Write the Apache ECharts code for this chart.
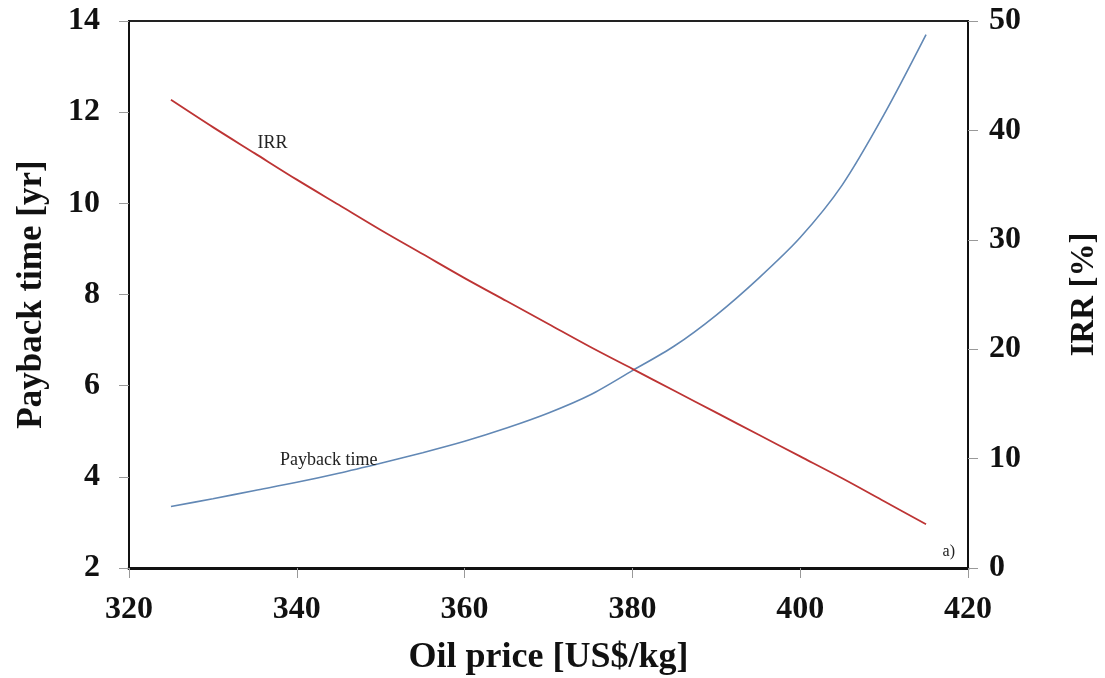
<!DOCTYPE html>
<html>
<head>
<meta charset="utf-8">
<script src="https://cdn.jsdelivr.net/npm/echarts@6/dist/echarts.min.js"></script>
<style>
  html, body { margin: 0; padding: 0; background: #fff; }
  #chart { width: 1105px; height: 678px; }
</style>
</head>
<body>
<div id="chart"></div>
<script>
// oil price [US$/kg]
const oilPrice = [325, 330, 335, 340, 345, 350, 355, 360, 365, 370, 375, 380, 385, 390, 395, 400, 405, 410, 415];
// payback time [yr]
const payback = [3.35, 3.52, 3.70, 3.88, 4.08, 4.30, 4.53, 4.78, 5.07, 5.40, 5.80, 6.33, 6.87, 7.55, 8.35, 9.25, 10.40, 11.95, 13.70];
// IRR [%]
const irr = [42.8, 40.3, 37.9, 35.5, 33.2, 30.9, 28.7, 26.5, 24.4, 22.3, 20.2, 18.2, 16.2, 14.2, 12.2, 10.2, 8.2, 6.1, 4.0];

const xTicks = { min: 320, max: 420, interval: 20 };
const leftTicks = { min: 2, max: 14, interval: 2 };
const rightTicks = { min: 0, max: 50, interval: 10 };

const serif = "Liberation Serif";
const pair = (xs, ys) => xs.map((x, i) => [x, ys[i]]);

const chart = echarts.init(document.getElementById("chart"), null, { renderer: "canvas" });

const tickLabel = { color: "#111", fontFamily: serif, fontWeight: "bold", fontSize: 32 };
const nameStyle = { color: "#111", fontFamily: serif, fontWeight: "bold", fontSize: 36 };

// in-plot text that sits next to a curve
const curveLabel = (text, coord) => ({
  symbol: "circle",
  symbolSize: 1,
  itemStyle: { color: "rgba(0,0,0,0)" },
  label: { show: true, position: "inside", formatter: text, color: "#222", fontFamily: serif, fontSize: 18 },
  data: [{ coord }],
});

chart.setOption({
  animation: false,
  backgroundColor: "#fff",
  grid: {
    left: 129,
    right: 137,
    top: 21,
    bottom: 110,
    outerBoundsMode: "none",
    show: true,
    borderColor: "#222",
    borderWidth: 2,
  },
  xAxis: {
    type: "value",
    ...xTicks,
    name: "Oil price [US$/kg]",
    nameLocation: "middle",
    nameGap: 72,
    nameTextStyle: nameStyle,
    axisLine: { lineStyle: { color: "#111", width: 3 } },
    axisTick: { show: true, inside: false, length: 10, lineStyle: { color: "#999" } },
    axisLabel: { ...tickLabel, margin: 26 },
    splitLine: { show: false },
  },
  yAxis: [
    {
      type: "value",
      ...leftTicks,
      name: "Payback time [yr]",
      nameLocation: "middle",
      nameGap: 80,
      nameTextStyle: { ...nameStyle, fontSize: 35 },
      axisLine: { show: true, lineStyle: { color: "#111", width: 2 } },
      axisTick: { show: true, inside: false, length: 10, lineStyle: { color: "#999" } },
      axisLabel: { ...tickLabel, margin: 29 },
      splitLine: { show: false },
    },
    {
      type: "value",
      ...rightTicks,
      position: "right",
      name: "IRR [%]",
      nameLocation: "middle",
      nameGap: 100,
      nameTextStyle: { ...nameStyle, fontSize: 33 },
      axisLine: { show: true, lineStyle: { color: "#111", width: 2 } },
      axisTick: { show: true, inside: false, length: 10, lineStyle: { color: "#999" } },
      axisLabel: { ...tickLabel, margin: 21 },
      splitLine: { show: false },
    },
  ],
  series: [
    {
      name: "Payback time",
      type: "line",
      yAxisIndex: 0,
      data: pair(oilPrice, payback),
      smooth: 0.3,
      showSymbol: false,
      lineStyle: { color: "#6288b5", width: 1.6 },
      markPoint: curveLabel("Payback time", [343.8, 4.36]),
    },
    {
      name: "IRR",
      type: "line",
      yAxisIndex: 1,
      data: pair(oilPrice, irr),
      smooth: 0.3,
      showSymbol: false,
      lineStyle: { color: "#bd3434", width: 1.8 },
      markPoint: curveLabel("IRR", [337.1, 38.8]),
    },
  ],
  graphic: [
    {
      type: "text",
      right: 150,
      bottom: 118,
      style: { text: "a)", fill: "#222", font: "16px 'Liberation Serif'" },
    },
  ],
});
</script>
</body>
</html>
